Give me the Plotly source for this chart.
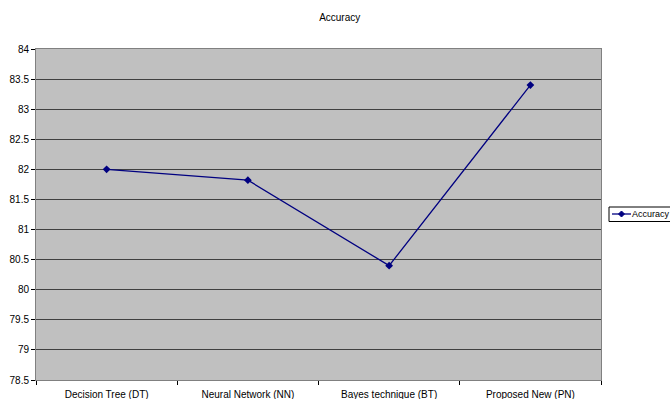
import plotly.graph_objects as go

categories = ["Decision Tree (DT)", "Neural Network (NN)", "Bayes technique (BT)", "Proposed New (PN)"]
accuracy = [82.0, 81.82, 80.4, 83.4]
y_ticks = [78.5, 79, 79.5, 80, 80.5, 81, 81.5, 82, 82.5, 83, 83.5, 84]
series_name = "Accuracy"

W, H = 670, 399
L, R, T, B = 36, 69, 49, 19
PW, PH = W - L - R, H - T - B

def px(x):
    return (x - L) / PW

def py(y):
    return (H - B - y) / PH

fig = go.Figure()
fig.add_trace(go.Scatter(
    x=categories, y=accuracy, mode="lines+markers", name=series_name,
    line=dict(color="#000080", width=1.3),
    marker=dict(symbol="diamond", size=6, color="#000080"),
    showlegend=False,
))

# legend box drawn manually (reference legend sits at the right edge)
shapes = [
    dict(type="rect", xref="paper", yref="paper", x0=px(609), x1=px(675), y0=py(221.5), y1=py(207),
         line=dict(color="#000000", width=1), fillcolor="white", layer="above"),
    dict(type="line", xref="paper", yref="paper", x0=px(612), x1=px(631), y0=py(214), y1=py(214),
         line=dict(color="#000080", width=1.3), layer="above"),
    dict(type="path", xref="paper", yref="paper", xsizemode="pixel", ysizemode="pixel",
         xanchor=px(621.5), yanchor=py(214), path="M 0,3 L 3,0 L 0,-3 L -3,0 Z",
         line=dict(color="#000080", width=1), fillcolor="#000080", layer="above"),
]

fig.update_layout(
    width=W, height=H,
    margin=dict(l=L, r=R, t=T, b=B, autoexpand=False),
    paper_bgcolor="white", plot_bgcolor="#C0C0C0",
    font=dict(family="Liberation Sans, Arial, sans-serif", size=10, color="#000000"),
    title=dict(text="Accuracy", x=0.507, xanchor="center", y=0.957, yanchor="middle",
               font=dict(size=10, color="#000000")),
    shapes=shapes,
    annotations=[dict(text=series_name, xref="paper", yref="paper", x=px(631), y=py(214),
                      xanchor="left", yanchor="middle", showarrow=False, borderpad=0,
                      font=dict(size=9, color="#000000"))],
    xaxis=dict(type="category", range=[-0.5, 3.5], ticks="outside", tickson="boundaries", ticklen=4,
               tickcolor="#000000", showgrid=False, showline=True, linecolor="#808080",
               linewidth=1, mirror=True, zeroline=False, tickfont=dict(size=10),
               ticklabelstandoff=5),
    yaxis=dict(range=[78.5, 84], tickvals=y_ticks, ticktext=[f"{v:g}" for v in y_ticks],
               ticks="outside", ticklen=4, tickcolor="#000000",
               showgrid=True, gridcolor="#404040", gridwidth=1,
               showline=True, linecolor="#808080", linewidth=1, mirror=True,
               zeroline=False, tickfont=dict(size=10)),
)

fig.write_html("out.html")
